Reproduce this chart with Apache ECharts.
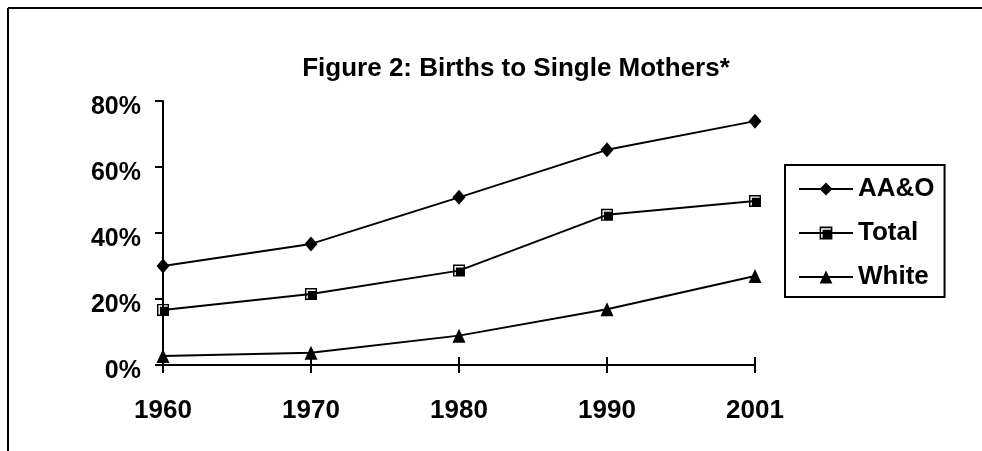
<!DOCTYPE html>
<html>
<head>
<meta charset="utf-8">
<script src="https://cdn.jsdelivr.net/npm/echarts@6/dist/echarts.min.js"></script>
<style>
  html, body { margin: 0; padding: 0; background: #fff; }
  #chart { width: 982px; height: 451px; }
</style>
</head>
<body>
<div id="chart"></div>
<script>
var years = ['1960', '1970', '1980', '1990', '2001'];
var aao = [30, 36.7, 50.8, 65.2, 73.9];
var total = [16.7, 21.5, 28.6, 45.5, 49.7];
var white = [2.7, 3.7, 8.9, 16.9, 27];
var yTicks = [0, 20, 40, 60, 80];

var font = 'Arial, "Liberation Sans", sans-serif';
// black square with a thin white inner corner
var squareSymbol = 'path://M0,0H10V10H0Z M1.2,1.2V8.8H8.8V1.2Z M2.4,2.4H8.8V8.8H2.4Z';

var chart = echarts.init(document.getElementById('chart'));

function line(name, data, symbol, size) {
	return {
		name: name,
		type: 'line',
		data: data,
		symbol: symbol,
		symbolSize: size,
		showSymbol: true,
		lineStyle: { color: '#000', width: 2 },
		itemStyle: { color: '#000', borderWidth: 0 },
		emphasis: { disabled: true }
	};
}

chart.setOption({
	animation: false,
	backgroundColor: '#fff',
	title: {
		text: 'Figure 2: Births to Single Mothers*',
		left: 516,
		top: 56,
		textAlign: 'center',
		padding: 0,
		textStyle: { fontFamily: font, fontWeight: 'bold', fontSize: 26, color: '#000' }
	},
	legend: {
		orient: 'vertical',
		left: 785,
		top: 165,
		padding: [11, 10, 7, 13],
		itemWidth: 54,
		itemHeight: 16,
		itemGap: 18,
		borderColor: '#000',
		borderWidth: 2,
		textStyle: { fontFamily: font, fontWeight: 'bold', fontSize: 26, color: '#000' },
		data: ['AA&O', 'Total', 'White']
	},
	grid: { left: 163, right: 227, top: 101, bottom: 86, containLabel: false },
	xAxis: [{
		type: 'category',
		data: years,
		boundaryGap: false,
		axisLine: { lineStyle: { color: '#000', width: 2 } },
		axisTick: { show: true, length: 8, lineStyle: { color: '#000', width: 2 } },
		axisLabel: { margin: 33, color: '#000', fontFamily: font, fontWeight: 'bold', fontSize: 26 },
		splitLine: { show: false }
	}, {
		// upper half of the crossing ticks
		type: 'category',
		data: years,
		boundaryGap: false,
		position: 'top',
		offset: -264,
		axisLine: { show: false },
		axisTick: { show: true, length: 8, lineStyle: { color: '#000', width: 2 } },
		axisLabel: { show: false },
		splitLine: { show: false }
	}],
	yAxis: {
		type: 'value',
		min: yTicks[0],
		max: yTicks[yTicks.length - 1],
		interval: 20,
		axisLine: { show: true, lineStyle: { color: '#000', width: 2 } },
		axisTick: { show: true, length: 8, lineStyle: { color: '#000', width: 2 } },
		axisLabel: {
			formatter: '{a|{value}%}',
			margin: 22,
			rich: {
				a: { padding: [12, 0, 0, 0], color: '#000', fontFamily: font, fontWeight: 'bold', fontSize: 25 }
			}
		},
		splitLine: { show: false }
	},
	graphic: [
		{ type: 'line', shape: { x1: 8, y1: 8, x2: 982, y2: 8 }, style: { stroke: '#000', lineWidth: 2 } },
		{ type: 'line', shape: { x1: 8, y1: 8, x2: 8, y2: 451 }, style: { stroke: '#000', lineWidth: 2 } }
	],
	series: [
		line('AA&O', aao, 'diamond', [13, 15]),
		line('Total', total, squareSymbol, 12),
		line('White', white, 'triangle', [13, 14])
	]
});
</script>
</body>
</html>
